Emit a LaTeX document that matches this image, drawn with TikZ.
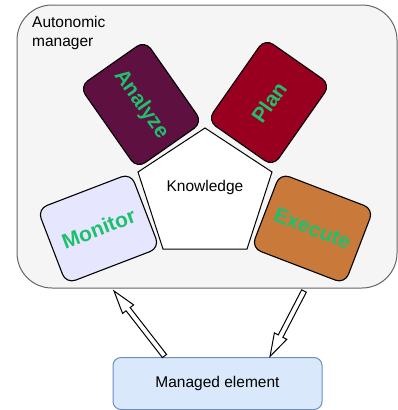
\documentclass[tikz,border=0pt]{standalone}
\usepackage{fontspec}
\setmainfont{Liberation Sans}
\usetikzlibrary{calc}
\definecolor{contfill}{HTML}{F5F5F5}
\definecolor{contline}{HTML}{666666}
\definecolor{anafill}{HTML}{5E1040}
\definecolor{planfill}{HTML}{990020}
\definecolor{exefill}{HTML}{C97A3B}
\definecolor{monfill}{HTML}{E6E6FF}
\definecolor{labgreen}{HTML}{1FC06D}
\definecolor{mefill}{HTML}{DAE8FC}
\definecolor{meline}{HTML}{6C8EBF}
\tikzset{
  phase/.style={draw=black, line width=1.1pt, rounded corners=10pt,
    minimum width=100pt, minimum height=80pt, inner sep=0pt,
    font=\fontsize{21}{24}\selectfont\bfseries, text=labgreen},
  hollowarrow/.style={draw=black, fill=white, line width=1pt, line join=miter},
}
\begin{document}
\begin{tikzpicture}[x=1pt,y=-1pt]
\useasboundingbox (0,0) rectangle (398,410);
% container
\draw[contline, fill=contfill, line width=1pt, rounded corners=35pt] (17,5) rectangle (397,288);
\node[anchor=north west, align=left, inner sep=0pt, font=\fontsize{15.5}{19}\selectfont] (title) at (32,16) {Autonomic\\manager};
% knowledge pentagon
\coordinate (k1) at (205,128);
\coordinate (k2) at (272,172);
\coordinate (k3) at (247,249);
\coordinate (k4) at (163,249);
\coordinate (k5) at (138,172);
\draw[fill=white, line width=1pt, line join=miter] (k1) -- (k2) -- (k3) -- (k4) -- (k5) -- cycle;
\node[font=\fontsize{15.5}{18}\selectfont] (know) at (205,187) {Knowledge};
% phases
\node[phase, fill=anafill, rotate=-55] (ana) at (141,104.5) {Analyze};
\node[phase, fill=planfill, rotate=55] (plan) at (269,102.5) {Plan};
\node[phase, fill=monfill, rotate=21] (mon) at (98.5,228.5) {Monitor};
\node[phase, fill=exefill, rotate=-21] (exe) at (312.5,228.5) {Execute};
% managed element
\node[draw=meline, fill=mefill, line width=1pt, rounded corners=8pt, minimum width=209pt, minimum height=52pt, inner sep=0pt, font=\fontsize{15.5}{18}\selectfont] (me) at (217.5,383.5) {Managed element};
% arrows
\coordinate (la) at (164.5,356);
\coordinate (lb) at (114,291);
\coordinate (lc) at ($(lb)!23pt!(la)$);
\draw[hollowarrow] ($(la)!2.6pt!90:(lb)$) -- ($(lc)!2.6pt!90:(lb)$) -- ($(lc)!7pt!90:(lb)$) -- (lb) -- ($(lc)!7pt!-90:(lb)$) -- ($(lc)!2.6pt!-90:(lb)$) -- ($(la)!2.6pt!-90:(lb)$) -- cycle;
\coordinate (ra) at (304,291);
\coordinate (rb) at (270,356.5);
\coordinate (rc) at ($(rb)!23pt!(ra)$);
\draw[hollowarrow] ($(ra)!2.6pt!90:(rb)$) -- ($(rc)!2.6pt!90:(rb)$) -- ($(rc)!7pt!90:(rb)$) -- (rb) -- ($(rc)!7pt!-90:(rb)$) -- ($(rc)!2.6pt!-90:(rb)$) -- ($(ra)!2.6pt!-90:(rb)$) -- cycle;
\end{tikzpicture}
\end{document}
